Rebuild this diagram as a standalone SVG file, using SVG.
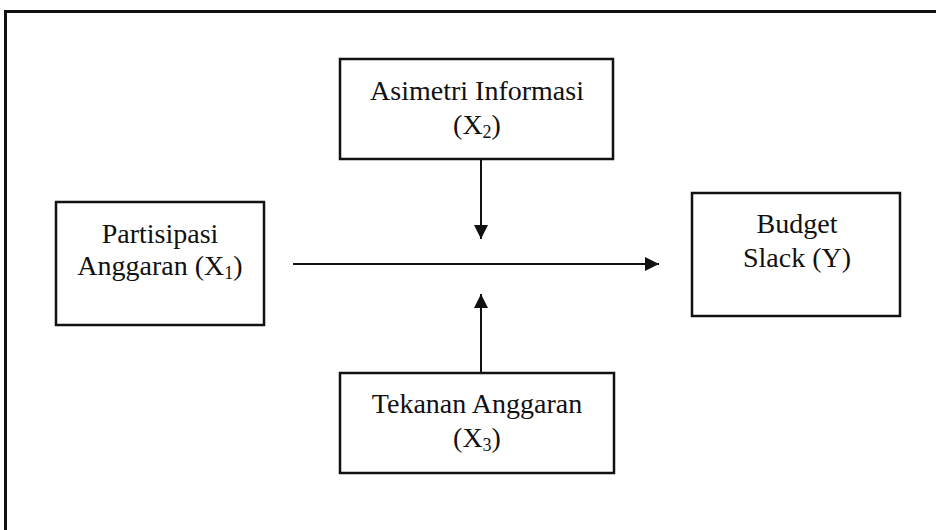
<svg xmlns="http://www.w3.org/2000/svg" width="936" height="530" viewBox="0 0 936 530">
<style>
.box{fill:#fff;stroke:#111;stroke-width:2.5}
.t{font-family:"Liberation Serif","Times New Roman",serif;font-size:28px;fill:#111;text-anchor:middle}
.c{stroke:#111;stroke-width:2;fill:none}
</style>
<defs>
<marker id="ah" markerWidth="14" markerHeight="14" refX="14" refY="7" orient="auto" markerUnits="userSpaceOnUse">
<path d="M0,0 L14,7 L0,14 Z" fill="#111"/>
</marker>
</defs>
<rect width="936" height="530" fill="#fff"/>
<path d="M5.5,530 V11.5 H936" fill="none" stroke="#111" stroke-width="3"/>
<g id="x1">
<rect class="box" x="56" y="202" width="208" height="123"/>
<text class="t" x="160" y="243">Partisipasi</text>
<text class="t" x="160" y="275">Anggaran (X<tspan font-size="18" dy="4">1</tspan><tspan dy="-4">)</tspan></text>
</g>
<g id="x2">
<rect class="box" x="340" y="59" width="273" height="100"/>
<text class="t" x="477" y="100">Asimetri Informasi</text>
<text class="t" x="477" y="134">(X<tspan font-size="18" dy="4">2</tspan><tspan dy="-4">)</tspan></text>
</g>
<g id="x3">
<rect class="box" x="340" y="373" width="274" height="100"/>
<text class="t" x="477" y="413">Tekanan Anggaran</text>
<text class="t" x="477" y="447">(X<tspan font-size="18" dy="4">3</tspan><tspan dy="-4">)</tspan></text>
</g>
<g id="y">
<rect class="box" x="692" y="193" width="208" height="123"/>
<text class="t" x="797" y="233">Budget</text>
<text class="t" x="797" y="267">Slack (Y)</text>
</g>
<g id="connectors">
<line class="c" x1="293" y1="264" x2="659" y2="264" marker-end="url(#ah)"/>
<line class="c" x1="481" y1="160" x2="481" y2="239" marker-end="url(#ah)"/>
<line class="c" x1="481" y1="372" x2="481" y2="294" marker-end="url(#ah)"/>
</g>
</svg>
